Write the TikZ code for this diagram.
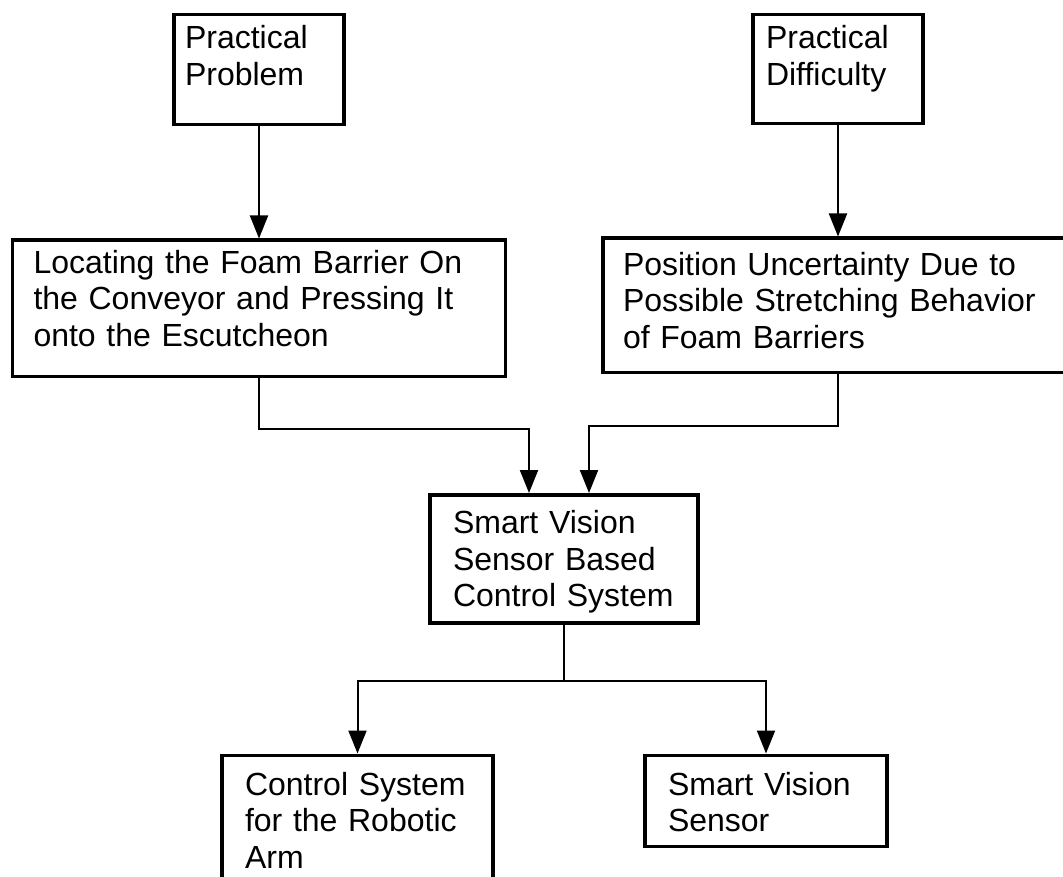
\documentclass[tikz,border=0pt]{standalone}
\usepackage{fontspec}
\setmainfont{Liberation Sans}
\usetikzlibrary{positioning,arrows.meta}

\begin{document}
\begin{tikzpicture}[x=1pt,y=-1pt,node distance=112pt,
  main node/.style={draw,rectangle,line width=3.5pt,anchor=north,inner ysep=0pt,
    align=left,font=\fontsize{32}{36.5}\selectfont},
  conn/.style={line width=2pt,-{Triangle[length=23pt,width=18pt]}}]
  \useasboundingbox (0,0) rectangle (1063,877);
  \clip (0,0) rectangle (1063,877);

  \node[main node,inner xsep=11pt,text width=148pt,text height=34pt,text depth=76pt] (1) at (259,13) {Practical\\Problem};
  \node[main node,inner xsep=13pt,text width=144pt,text height=34pt,text depth=75pt] (2) at (838,13) {Practical\\Difficulty};
  \node[main node,inner xsep=21pt,text width=451pt,text height=33pt,text depth=103pt] (3) [below=112pt of 1] {Locating the Foam Barrier On\\the Conveyor and Pressing It\\onto the Escutcheon};
  \node[main node,inner xsep=20pt,text width=430pt,text height=37pt,text depth=97pt] (4) [below=111pt of 2] {Position Uncertainty Due to\\Possible Stretching Behavior\\of Foam Barriers};
  \node[main node,inner xsep=23pt,text width=222pt,text height=39pt,text depth=89pt] (5) at (564,493) {Smart Vision\\Sensor Based\\Control System};
  \node[main node,inner xsep=23pt,text width=225pt,text height=40pt,text depth=140pt] (6) [below=129pt of 5,xshift=-206.5pt] {Control System\\for the Robotic\\Arm};
  \node[main node,inner xsep=23pt,text width=196pt,text height=40pt,text depth=51pt] (7) [below=129pt of 5,xshift=202pt] {Smart Vision\\Sensor};

  \path[conn]
    (1) edge (3)
    (2) edge (4);

  \draw[conn] (3.south) -- ++(0,51) -| ([xshift=-35pt]5.north);
  \draw[conn] (4.south) -- ++(0,52) -| ([xshift=25pt]5.north);
  \draw[conn] (5.south) -- ++(0,56) -| (6.north);
  \draw[conn] (5.south) -- ++(0,56) -| (7.north);
\end{tikzpicture}
\end{document}
